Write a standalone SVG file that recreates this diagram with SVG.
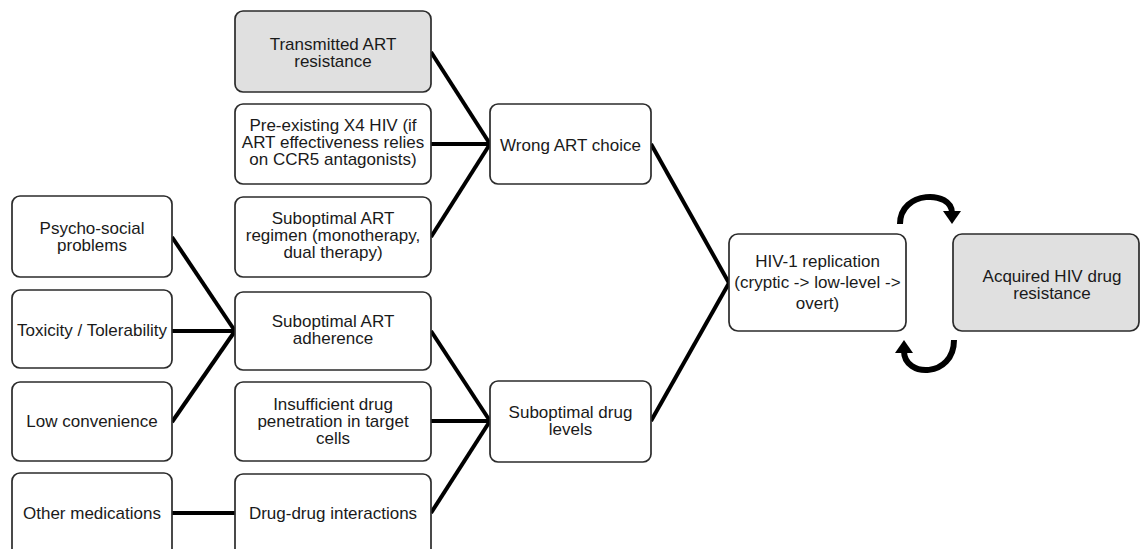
<svg xmlns="http://www.w3.org/2000/svg" width="1141" height="549" viewBox="0 0 1141 549">
<style>
  .box { fill: #ffffff; stroke: #2b2b2b; stroke-width: 1.7; }
  .gray { fill: #e0e0e0; }
  .t { font-family: "Liberation Sans", Arial, sans-serif; font-size: 17px; fill: #1a1a1a; text-anchor: middle; }
  .c { stroke: #000; stroke-width: 4; fill: none; stroke-linecap: butt; }
  .arc { stroke: #000; stroke-width: 6; fill: none; }
</style>
<defs>
  <marker id="ah" markerUnits="userSpaceOnUse" markerWidth="14" markerHeight="18" viewBox="0 0 14 18" refX="2" refY="9" orient="auto">
    <path d="M0,0 L13,9 L0,18 z" fill="#000"/>
  </marker>
</defs>
<rect width="1141" height="549" fill="#ffffff"/>

<g id="connectors">
  <line class="c" x1="431" y1="52" x2="490" y2="144"/>
  <line class="c" x1="431" y1="144" x2="490" y2="144"/>
  <line class="c" x1="431" y1="237" x2="490" y2="144"/>
  <line class="c" x1="172" y1="237" x2="235" y2="331"/>
  <line class="c" x1="172" y1="331" x2="235" y2="331"/>
  <line class="c" x1="172" y1="422" x2="235" y2="331"/>
  <line class="c" x1="172" y1="513" x2="235" y2="513"/>
  <line class="c" x1="431" y1="331" x2="490" y2="421"/>
  <line class="c" x1="431" y1="421" x2="490" y2="421"/>
  <line class="c" x1="431" y1="513" x2="490" y2="421"/>
  <line class="c" x1="651" y1="144" x2="729" y2="283"/>
  <line class="c" x1="651" y1="421" x2="729" y2="283"/>
  <path class="arc" d="M 900 224 C 900 190, 952 190, 952 213" marker-end="url(#ah)"/>
  <path class="arc" d="M 954 340 C 954 378, 904 378, 904 351" marker-end="url(#ah)"/>
</g>

<g id="n-transmitted">
  <rect class="box gray" x="235" y="11" width="196" height="81" rx="8"/>
  <text class="t" x="333" y="50">Transmitted ART</text>
  <text class="t" x="333" y="67">resistance</text>
</g>
<g id="n-preexisting">
  <rect class="box" x="235" y="104" width="196" height="80" rx="8"/>
  <text class="t" x="333" y="131">Pre-existing X4 HIV (if</text>
  <text class="t" x="333" y="148">ART effectiveness relies</text>
  <text class="t" x="333" y="165">on CCR5 antagonists)</text>
</g>
<g id="n-regimen">
  <rect class="box" x="235" y="197" width="196" height="80" rx="8"/>
  <text class="t" x="333" y="224">Suboptimal ART</text>
  <text class="t" x="333" y="241">regimen (monotherapy,</text>
  <text class="t" x="333" y="258">dual therapy)</text>
</g>
<g id="n-adherence">
  <rect class="box" x="235" y="292" width="196" height="78" rx="8"/>
  <text class="t" x="333" y="327">Suboptimal ART</text>
  <text class="t" x="333" y="344">adherence</text>
</g>
<g id="n-insufficient">
  <rect class="box" x="235" y="382" width="196" height="79" rx="8"/>
  <text class="t" x="333" y="410">Insufficient drug</text>
  <text class="t" x="333" y="427">penetration in target</text>
  <text class="t" x="333" y="444">cells</text>
</g>
<g id="n-ddi">
  <rect class="box" x="235" y="474" width="196" height="85" rx="8"/>
  <text class="t" x="333" y="519">Drug-drug interactions</text>
</g>

<g id="n-psycho">
  <rect class="box" x="12" y="196" width="160" height="81" rx="8"/>
  <text class="t" x="92" y="234">Psycho-social</text>
  <text class="t" x="92" y="251">problems</text>
</g>
<g id="n-toxicity">
  <rect class="box" x="12" y="290" width="160" height="78" rx="8"/>
  <text class="t" x="92" y="336">Toxicity / Tolerability</text>
</g>
<g id="n-lowconv">
  <rect class="box" x="12" y="382" width="160" height="79" rx="8"/>
  <text class="t" x="92" y="427">Low convenience</text>
</g>
<g id="n-othermeds">
  <rect class="box" x="12" y="473" width="160" height="86" rx="8"/>
  <text class="t" x="92" y="519">Other medications</text>
</g>

<g id="n-wrongart">
  <rect class="box" x="490" y="104" width="161" height="80" rx="8"/>
  <text class="t" x="570.5" y="150.5">Wrong ART choice</text>
</g>
<g id="n-druglevels">
  <rect class="box" x="490" y="381" width="161" height="81" rx="8"/>
  <text class="t" x="570.5" y="418">Suboptimal drug</text>
  <text class="t" x="570.5" y="435">levels</text>
</g>

<g id="n-replication">
  <rect class="box" x="729" y="234" width="177" height="97" rx="9"/>
  <text class="t" x="817.5" y="267">HIV-1 replication</text>
  <text class="t" x="817.5" y="288">(cryptic -&gt; low-level -&gt;</text>
  <text class="t" x="817.5" y="309">overt)</text>
</g>
<g id="n-acquired">
  <rect class="box gray" x="953" y="234" width="186" height="97" rx="9"/>
  <text class="t" x="1052" y="282">Acquired HIV drug</text>
  <text class="t" x="1052" y="299">resistance</text>
</g>
</svg>
